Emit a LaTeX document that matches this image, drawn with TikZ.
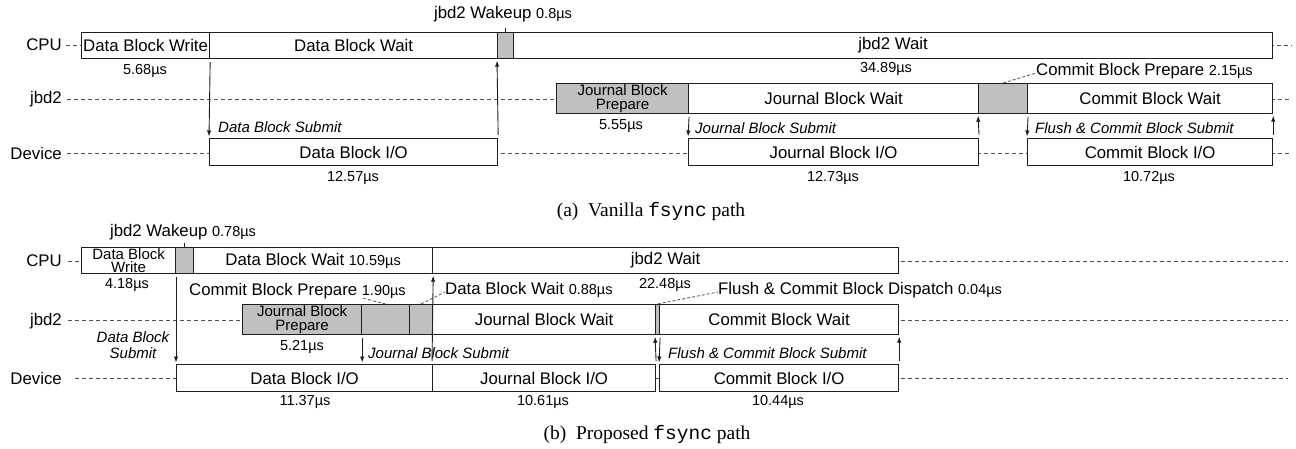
\documentclass[tikz,border=0pt]{standalone}
\usepackage{fontspec}
\setmainfont{Liberation Sans}
\newfontfamily\capserif{Liberation Serif}
\newfontfamily\capmono{Liberation Mono}
\usetikzlibrary{arrows.meta}
\definecolor{boxgray}{RGB}{192,192,192}
\definecolor{linec}{RGB}{30,30,30}
\definecolor{dashc}{RGB}{80,80,80}
\newcommand\blk[7]{\node[#6, minimum width={#3-#2}, minimum height={#5-#4}, anchor=north west] (#1) at (#2,#4) {#7};}
\newcommand\sm[1]{{\fontsize{14.5}{15}\selectfont #1}}
\begin{document}
\begin{tikzpicture}[x=1pt,y=-1pt,
  bx/.style={draw=linec, line width=1.2pt, fill=white, inner sep=0pt, font=\fontsize{16.8}{16}\selectfont},
  gbx/.style={bx, fill=boxgray},
  two/.style={align=center, font=\fontsize{15}{13.5}\selectfont},
  rowlbl/.style={anchor=east, inner sep=0pt, font=\fontsize{16.8}{16}\selectfont},
  dur/.style={inner sep=0pt, font=\fontsize{14.5}{15}\selectfont},
  ann/.style={inner sep=0pt, anchor=west, font=\fontsize{16.8}{16}\selectfont},
  annc/.style={inner sep=0pt, font=\fontsize{16.8}{16}\selectfont},
  sub/.style={inner sep=0pt, anchor=west, font=\fontsize{15}{15}\selectfont\itshape},
  subc/.style={inner sep=0pt, align=center, font=\fontsize{15}{16}\selectfont\itshape},
  lane/.style={draw=dashc, line width=0.9pt, dash pattern=on 4pt off 3pt},
  arr/.style={draw=linec, line width=0.9pt, -{Latex[length=6pt,width=4.5pt]}, shorten <=3pt, shorten >=1.5pt},
  lead/.style={draw=dashc, line width=0.8pt, dash pattern=on 3pt off 2pt},
  tick/.style={draw=linec, line width=0.8pt},
  captxt/.style={inner sep=0pt, font=\capserif\fontsize{19.5}{20}\selectfont}
]
\useasboundingbox (0,0) rectangle (1296,449);

% ---------------- (a) Vanilla ----------------
\coordinate (aL1) at (66,45);  \coordinate (aR1) at (1292,45);
\coordinate (aL2) at (67,99);  \coordinate (aR2) at (1292,99);
\coordinate (aL3) at (67,153); \coordinate (aR3) at (1292,153);
\draw[lane] (aL1) -- (aR1);
\draw[lane] (aL2) -- (aR2);
\draw[lane] (aL3) -- (aR3);

\node[rowlbl] (aCPU) at (62,45) {CPU};
\node[rowlbl] (aJBD) at (62,99) {jbd2};
\node[rowlbl] (aDEV) at (62,153) {Device};

\blk{aW}{81}{209}{32}{58}{bx}{Data Block Write}
\blk{aDW}{209}{497}{32}{58}{bx}{Data Block Wait}
\blk{aWk}{497}{513}{32}{58}{gbx}{}
\blk{aJW}{513}{1272}{32}{58}{bx}{jbd2 Wait}
\blk{aJP}{556}{688}{83}{113}{gbx,two}{Journal Block\\Prepare}
\blk{aJBW}{688}{978}{83}{113}{bx}{Journal Block Wait}
\blk{aCP}{978}{1027}{83}{113}{gbx}{}
\blk{aCW}{1027}{1272}{83}{113}{bx}{Commit Block Wait}
\blk{aDIO}{209}{497}{138}{165}{bx}{Data Block I/O}
\blk{aJIO}{688}{978}{138}{165}{bx}{Journal Block I/O}
\blk{aCIO}{1027}{1272}{138}{165}{bx}{Commit Block I/O}

\node[dur] (ad1) at (145,71) {5.68µs};
\node[dur] (ad2) at (886,69) {34.89µs};
\node[dur] (ad3) at (621,126) {5.55µs};
\node[dur] (ad4) at (353,178) {12.57µs};
\node[dur] (ad5) at (833,178) {12.73µs};
\node[dur] (ad6) at (1149,178) {10.72µs};

\node[annc] (awk) at (503,14) {jbd2 Wakeup \sm{0.8µs}};
\draw[tick] (aWk.north) -- ([yshift=4pt]aWk.north);
\node[ann] (acp) at (1036,71) {Commit Block Prepare \sm{2.15µs}};
\draw[lead] (aCP.north) -- ([yshift=-2pt]acp.west);

\node[sub] (as1) at (218,127) {Data Block Submit};
\node[sub] (as2) at (695,128) {Journal Block Submit};
\node[sub] (as3) at (1035,128) {Flush \& Commit Block Submit};

\draw[arr] (aW.south east) -- (aDIO.north west);
\draw[arr] (aDIO.north east) -- (aWk.south west);
\draw[arr] (aJP.south east) -- (aJIO.north west);
\draw[arr] (aJIO.north east) -- (aCP.south west);
\draw[arr] (aCP.south east) -- (aCIO.north west);
\draw[arr] (aCIO.north east) -- (aCW.south east);

\node[captxt] (capa) at (651,212) {(a)\hspace{0.5em}Vanilla {\capmono fsync} path};

% ---------------- (b) Proposed ----------------
\coordinate (bL1) at (68,261);  \coordinate (bR1) at (1288,261);
\coordinate (bL2) at (68,320);  \coordinate (bR2) at (1288,320);
\coordinate (bL3) at (75,378);  \coordinate (bR3) at (1288,378);
\draw[lane] (bL1) -- (bR1);
\draw[lane] (bL2) -- (bR2);
\draw[lane] (bL3) -- (bR3);

\node[rowlbl] (bCPU) at (62,261) {CPU};
\node[rowlbl] (bJBD) at (62,321) {jbd2};
\node[rowlbl] (bDEV) at (62,378) {Device};

\blk{bW}{81}{175}{247}{273}{bx,two}{Data Block\\Write}
\blk{bWk}{175}{193}{247}{273}{gbx}{}
\blk{bDW}{193}{432}{247}{273}{bx}{Data Block Wait \sm{10.59µs}}
\blk{bJW}{432}{898}{247}{273}{bx}{jbd2 Wait}
\blk{bJP}{242}{361}{304}{334}{gbx,two}{Journal Block\\Prepare}
\blk{bCP}{361}{409}{304}{334}{gbx}{}
\blk{bDWg}{409}{432}{304}{334}{gbx}{}
\blk{bJBW}{432}{655}{304}{334}{bx}{Journal Block Wait}
\blk{bFD}{655}{659}{304}{334}{gbx}{}
\blk{bCW}{659}{898}{304}{334}{bx}{Commit Block Wait}
\blk{bDIO}{176}{432}{364}{391}{bx}{Data Block I/O}
\blk{bJIO}{432}{655}{364}{391}{bx}{Journal Block I/O}
\blk{bCIO}{659}{898}{364}{391}{bx}{Commit Block I/O}

\node[dur] (bd1) at (127,285) {4.18µs};
\node[dur] (bd2) at (665,285) {22.48µs};
\node[dur] (bd3) at (302,347) {5.21µs};
\node[dur] (bd4) at (305,402) {11.37µs};
\node[dur] (bd5) at (543,402) {10.61µs};
\node[dur] (bd6) at (778,402) {10.44µs};

\node[annc] (bwk) at (183,232) {jbd2 Wakeup \sm{0.78µs}};
\draw[tick] (bWk.north) -- ([yshift=4pt]bWk.north);
\node[ann] (bcp) at (189,291) {Commit Block Prepare \sm{1.90µs}};
\coordinate (bcpend) at (362,298);
\draw[lead] (bCP.north) -- (bcpend);
\node[ann] (bdw) at (445,290) {Data Block Wait \sm{0.88µs}};
\draw[lead] (bDWg.north) -- ([yshift=-2pt]bdw.west);
\node[ann] (bfd) at (718,290) {Flush \& Commit Block Dispatch \sm{0.04µs}};
\draw[lead] (bFD.north) -- ([yshift=-2pt]bfd.west);

\node[subc] (bs1) at (133,345) {Data Block\\Submit};
\node[sub] (bs2) at (368,353) {Journal Block Submit};
\node[sub] (bs3) at (668,353) {Flush \& Commit Block Submit};

\draw[arr] (bDIO.north west |- bW.south) -- (bDIO.north west);
\draw[arr] (bJIO.north west) -- (bDW.south east);
\draw[arr] (bJP.south east) -- (bJP.south east |- bDIO.north);
\draw[arr] (bJIO.north east) -- (bFD.south west);
\draw[arr] (bFD.south east) -- (bCIO.north west);
\draw[arr] (bCIO.north east) -- (bCW.south east);

\node[captxt] (capb) at (647,435) {(b)\hspace{0.5em}Proposed {\capmono fsync} path};
\end{tikzpicture}
\end{document}
